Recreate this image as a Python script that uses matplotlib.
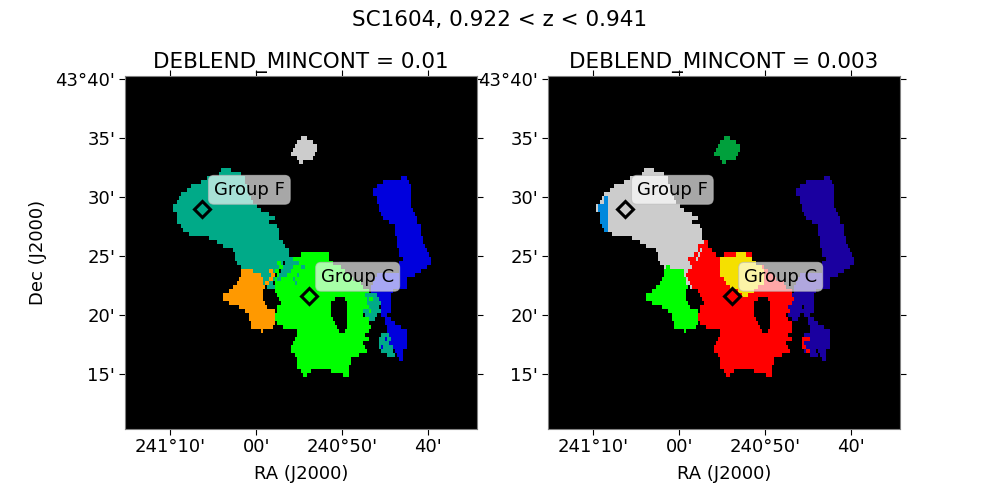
import numpy as np
import matplotlib
matplotlib.use('Agg')
import matplotlib.pyplot as plt
from matplotlib.colors import ListedColormap

# segment ids
BG, F, ORANGE, GREEN, BLUE, GRAY, RED, NAVY, YELLOW, AZURE, DKGREEN = range(11)
seg_colors = ['#000000', '#00aa88', '#ff9900', '#00ff00', '#0000dd', '#cccccc',
              '#ff0000', '#1a00a0', '#f5e000', '#0088dd', '#00a03c']

n_rows, n_cols = 88, 176

# each blob: first row, then (start, stop) column per row
top_blob = (15, [(88, 91), (86, 94), (85, 96), (84, 96), (83, 95), (86, 94), (87, 89)])
f_blob = (23, [(48, 53), (47, 58), (41, 60), (38, 60), (33, 61), (31, 62), (28, 62), (27, 63),
               (26, 64), (24, 66), (24, 68), (26, 72), (26, 75), (26, 72), (28, 76), (29, 77),
               (32, 77), (42, 77), (46, 79), (49, 80), (54, 82), (55, 82), (55, 82), (56, 79),
               (58, 79), (64, 76), (68, 75), (69, 75), (69, 74), (71, 75)])
orange_blob = (48, [(58, 64), (58, 68), (57, 69), (56, 69), (54, 70), (52, 69), (49, 69), (49, 69),
                    (52, 70), (57, 71), (60, 75), (62, 75), (62, 75), (63, 75), (63, 74), (68, 69)])
green_blob = (44, [(88, 102), (83, 102), (80, 104), (79, 108), (78, 110), (77, 113), (75, 114),
                   (75, 118), (75, 119), (75, 122), (76, 122), (77, 123), (78, 122), (76, 120),
                   (76, 121), (75, 119), (75, 120), (76, 122), (79, 122), (86, 122), (86, 120),
                   (85, 122), (84, 119), (83, 120), (83, 121), (85, 117), (86, 113), (86, 113),
                   (86, 112), (88, 112), (89, 91)])
green_foot = (74, [(109, 112)])
green_hole = (55, [(105, 110), (103, 111), (103, 111), (103, 111), (103, 111), (104, 111),
                   (105, 111), (106, 111), (107, 110)])
green_notch = (73, [(93, 103)])
blue_blob = (25, [(138, 141), (129, 142), (126, 143), (124, 143), (124, 143), (126, 143), (126, 143),
                  (127, 143), (127, 144), (128, 145), (129, 146), (132, 146), (135, 148), (135, 148),
                  (135, 148), (136, 149), (136, 149), (136, 150), (137, 151), (137, 152), (139, 153),
                  (137, 153), (137, 151), (137, 148), (126, 145), (125, 141), (124, 141), (123, 141),
                  (123, 134), (124, 133), (125, 133), (126, 133), (128, 133), (128, 133), (128, 131)])
blue_low = (60, [(130, 133), (130, 135), (131, 138), (131, 141), (131, 141), (133, 141), (133, 141),
                 (134, 141), (135, 139), (136, 139), (137, 139)])
circle_blob = (64, [(128, 132), (127, 133), (127, 133), (127, 134), (128, 134), (131, 135)])
right_patch = (54, [(120, 126), (121, 127), (120, 128), (120, 127), (119, 128), (120, 126), (122, 125)])
# teal/green noise where the two segments meet
teal_noise = (45, [(82, 84), (80, 86), (79, 84), (78, 82), (77, 81), (76, 78)])
teal_noise2 = (46, [(84, 87), (88, 90), (81, 83), (86, 87), (84, 85), (85, 86)])
green_noise = (54, [(118, 120), (122, 124), (119, 121), (120, 122), (122, 123), (118, 119),
                    (120, 122), (119, 121), (121, 123), (121, 122)])
green_noise2 = (46, [(76, 78), (77, 79), (75, 77), (76, 77)])
orange_noise = (48, [(72, 74), (73, 75), (72, 74), (70, 72)])
circle_blue = (65, [(130, 131), (132, 133), (128, 129)])

# panel 2 only
azure_patch = (30, [(28, 30), (28, 30), (25, 30), (25, 30), (26, 30), (26, 30), (26, 30), (27, 30), (28, 30)])
lime_top = (47, [(59, 61), (59, 68)])
red_top = (41, [(78, 80), (75, 80), (75, 82), (73, 84), (72, 86), (71, 86), (72, 87), (70, 87),
                (69, 87), (70, 89), (71, 89), (72, 91)])
red_noise = (45, [(70, 72), (72, 73), (73, 74)])
yellow_blob = (44, [(94, 99), (86, 102), (86, 104), (86, 107), (86, 108), (86, 108), (88, 108),
                    (89, 108), (91, 105), (95, 103), (97, 100)])
red_bits = (65, [(127, 131), (127, 128), (127, 129), (129, 131)])
gray_specks = (43, [(76, 77), (75, 76), (74, 75)])

# tick values in degrees and their labels
ra_ticks = [241 + 10 / 60, 241, 240 + 50 / 60, 240 + 40 / 60]
ra_labels = ["241°10'", "00'", "240°50'", "40'"]
dec_ticks = [43 + 40 / 60, 43 + 35 / 60, 43.5, 43 + 25 / 60, 43 + 20 / 60, 43.25]
dec_labels = ["43°40'", "35'", "30'", "25'", "20'", "15'"]
ra_lim = (241 + 15.27 / 60, 240 + 34.29 / 60)
dec_lim = (43 + 10.33 / 60, 43 + 40.29 / 60)

group_names = ['Group F', 'Group C']
group_ra = [241.105, 240.8975]
group_dec = [43.483, 43.360]
text_ra = [241.082, 240.874]
text_dec = [43.5105, 43.3875]


def paint(grid, label, blob):
    first, spans = blob
    for i, (c0, c1) in enumerate(spans):
        grid[first + i, c0:c1] = label


map_a = np.zeros((n_rows, n_cols), dtype=int)
for label, blob in [(F, f_blob), (ORANGE, orange_blob), (GREEN, green_blob), (GREEN, green_foot),
                    (BG, green_hole), (BG, green_notch), (BLUE, blue_blob), (BLUE, blue_low),
                    (F, circle_blob), (BLUE, circle_blue), (F, right_patch), (GREEN, green_noise),
                    (F, teal_noise), (F, teal_noise2), (GREEN, green_noise2), (ORANGE, orange_noise),
                    (GRAY, top_blob)]:
    paint(map_a, label, blob)

map_b = np.zeros((n_rows, n_cols), dtype=int)
for label, blob in [(GRAY, f_blob), (AZURE, azure_patch), (GREEN, orange_blob), (GREEN, lime_top),
                    (NAVY, blue_blob), (NAVY, blue_low), (NAVY, circle_blob), (NAVY, right_patch),
                    (RED, green_blob), (RED, green_foot), (RED, red_top), (BG, green_hole),
                    (BG, green_notch), (YELLOW, yellow_blob), (RED, red_bits), (GRAY, gray_specks),
                    (RED, red_noise), (DKGREEN, top_blob)]:
    paint(map_b, label, blob)

cmap = ListedColormap(seg_colors)

fig = plt.figure(figsize=(10, 5), dpi=100)
fig.suptitle('SC1604, 0.922 < z < 0.941', fontsize=15.5, y=0.98)

boxes = [[0.125, 0.142, 0.352, 0.706], [0.548, 0.142, 0.352, 0.706]]
maps = [map_a, map_b]
titles = ['DEBLEND_MINCONT = 0.01', 'DEBLEND_MINCONT = 0.003']

for k in range(2):
    ax = fig.add_axes(boxes[k])
    ax.imshow(maps[k], cmap=cmap, vmin=0, vmax=len(seg_colors) - 1, interpolation='nearest',
              aspect='auto', extent=[ra_lim[0], ra_lim[1], dec_lim[0], dec_lim[1]])
    ax.set_xlim(ra_lim)
    ax.set_ylim(dec_lim)
    ax.set_xticks(ra_ticks)
    ax.set_xticklabels(ra_labels)
    ax.set_yticks(dec_ticks)
    ax.set_yticklabels(dec_labels)
    ax.tick_params(labelsize=13, top=True, right=True, direction='out', length=4, pad=3)
    ax.tick_params(axis='x', pad=2.5)
    for s in ax.spines.values():
        s.set_color('#808080')
    ax.set_xlabel('RA (J2000)', fontsize=13, labelpad=6.5)
    if k == 0:
        ax.set_ylabel('Dec (J2000)', fontsize=13, labelpad=6)
    ax.set_title(titles[k], fontsize=15.5, pad=6)
    ax.plot(group_ra, group_dec, 'D', mfc='none', mec='black', mew=2.2, ms=8)
    for name, x, y in zip(group_names, text_ra, text_dec):
        ax.text(x, y, name, fontsize=13, ha='left', va='center',
                bbox=dict(boxstyle='round', fc='white', ec='#bbbbbb', lw=0.8, alpha=0.66))

fig.savefig('out.png', dpi=100)
